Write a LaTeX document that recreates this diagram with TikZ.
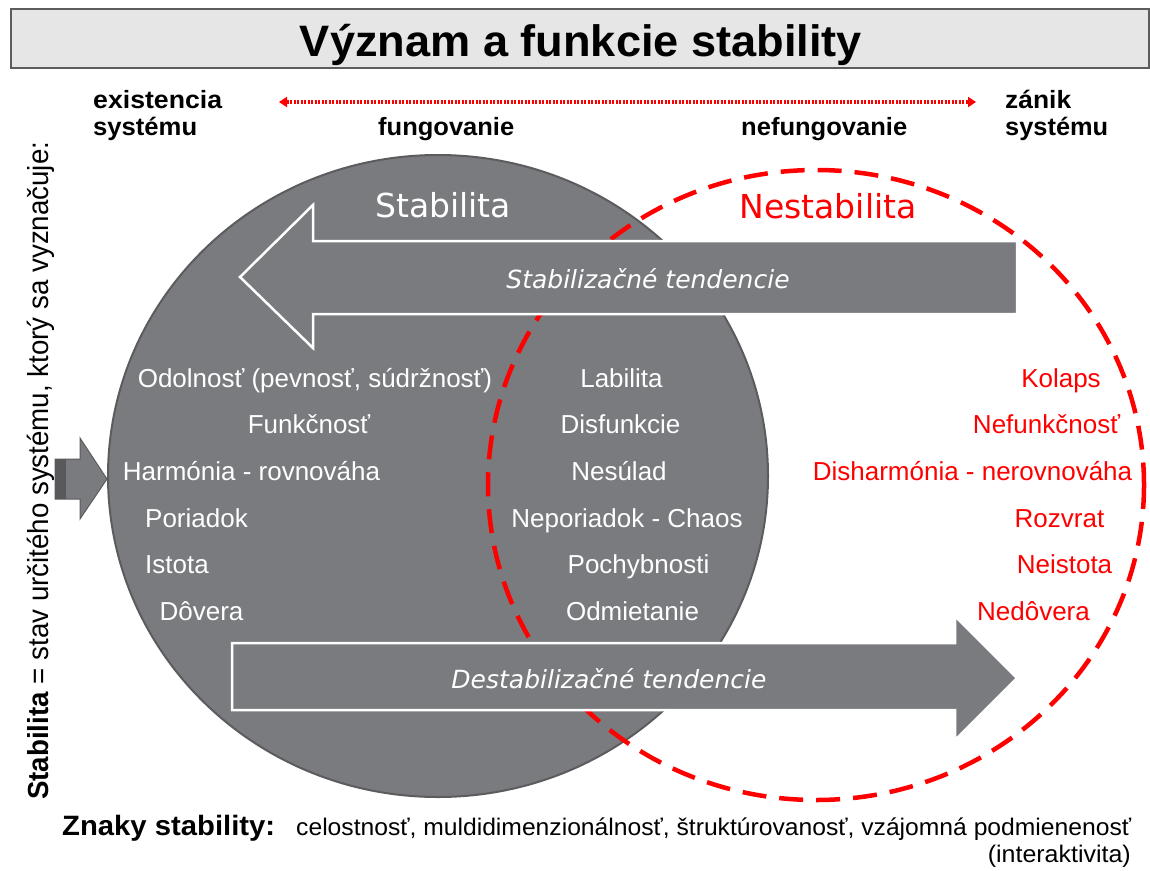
\documentclass[tikz,border=0pt]{standalone}
\usepackage{fontspec}
\setmainfont{Liberation Sans}
\newfontfamily\dvs{DejaVu Sans}
\usetikzlibrary{arrows.meta,shapes.geometric}
\definecolor{cgray}{HTML}{7A7B7F}
\definecolor{cborder}{HTML}{5C5C5E}
\definecolor{cdark}{HTML}{58595B}
\definecolor{ctitle}{HTML}{E6E6E6}
\definecolor{cred}{HTML}{FF0000}
\newcommand\fs[1]{\fontsize{#1}{#1}\selectfont}
\newcommand\fitx[2]{\resizebox{#1}{\height}{#2}}
\begin{document}
\begin{tikzpicture}[x=1pt,y=-1pt,
  lbl/.style={inner sep=0pt, anchor=base, font=\fs{26pt}},
  wt/.style={lbl, text=white},
  rt/.style={lbl, text=cred},
  plain/.style={inner sep=0pt, anchor=base west},
  bigarrow/.style={fill=cgray, draw=white, line width=2.5pt, line join=miter},
  head/.style={inner sep=0pt, anchor=base, font=\dvs\fs{33pt}},
  tend/.style={inner sep=0pt, anchor=base, text=white, font=\dvs\itshape\fs{25pt}},
  ]
\useasboundingbox (0,0) rectangle (1150,870);
% title
\node[draw=cborder, fill=ctitle, line width=1.5pt, minimum width=1138pt, minimum height=59pt, inner sep=0pt, anchor=north west] (titlebox) at (10,8) {};
\node[inner sep=0pt, anchor=base] (title) at (581,56) {\fitx{562pt}{\bfseries\fs{44pt}Význam a funkcie stability}};
% top labels
\node[plain] (ex1) at (93,108) {\fitx{129pt}{\bfseries\fs{25pt}existencia}};
\node[plain] (ex2) at (93,135) {\fitx{104pt}{\bfseries\fs{25pt}systému}};
\node[plain] (fung) at (378,135) {\fitx{136pt}{\bfseries\fs{25pt}fungovanie}};
\node[plain] (nefung) at (741,135) {\fitx{166pt}{\bfseries\fs{25pt}nefungovanie}};
\node[plain] (zan1) at (1005,108) {\fitx{66pt}{\bfseries\fs{25pt}zánik}};
\node[plain] (zan2) at (1005,135) {\fitx{103pt}{\bfseries\fs{25pt}systému}};
\coordinate (dl) at (279,102);
\coordinate (dr) at (976,102);
\draw[cred, line width=3.5pt, dash pattern=on 2pt off 1.5pt, {Triangle[length=8pt,width=10pt]}-{Triangle[length=8pt,width=10pt]}] (dl) -- (dr);
% circles
\node[ellipse, fill=cgray, draw=cborder, line width=2pt, minimum width=660pt, minimum height=642pt, inner sep=0pt] (stab) at (438,476) {};
\draw[cred, line width=4.5pt, dash pattern=on 24pt off 13pt] (816,485) ellipse [x radius=328, y radius=315];
% big arrows
\draw[bigarrow] (1017,241) -- (313,241) -- (313,205) -- (240,277) -- (313,348) -- (313,314) -- (1017,314) -- cycle;
\draw[bigarrow] (232,643) -- (955,643) -- (955,616) -- (1017,678) -- (955,740) -- (955,710) -- (232,710) -- cycle;
\node[tend] (stt) at (648,288) {Stabilizačné tendencie};
\node[tend] (dtt) at (609,688) {Destabilizačné tendencie};
% headings
\node[head, text=white] (hstab) at (443,217) {Stabilita};
\node[head, text=cred] (hnest) at (828,218) {Nestabilita};
% small left arrow
\draw[fill=cgray, draw=cborder, line width=1pt] (55,459) -- (80,459) -- (80,438) -- (107,479) -- (80,519) -- (80,499) -- (55,499) -- cycle;
\fill[cdark] (55,459) rectangle (66,499);
% left column
\node[wt] (l1) at (315,387) {Odolnosť (pevnosť, súdržnosť)};
\node[wt] (l2) at (309,433) {Funkčnosť};
\node[wt] (l3) at (251.5,480) {Harmónia - rovnováha};
\node[wt] (l4) at (196.5,527) {Poriadok};
\node[wt] (l5) at (177,573) {Istota};
\node[wt] (l6) at (201.5,620) {Dôvera};
% middle column
\node[wt] (m1) at (621.5,387) {Labilita};
\node[wt] (m2) at (620.5,433) {Disfunkcie};
\node[wt] (m3) at (619,480) {Nesúlad};
\node[wt] (m4) at (627,527) {Neporiadok - Chaos};
\node[wt] (m5) at (638.5,573) {Pochybnosti};
\node[wt] (m6) at (632.5,620) {Odmietanie};
% right column
\node[rt] (r1) at (1061,387) {Kolaps};
\node[rt] (r2) at (1046.5,433) {Nefunkčnosť};
\node[rt] (r3) at (972.5,480) {Disharmónia - nerovnováha};
\node[rt] (r4) at (1059.5,527) {Rozvrat};
\node[rt] (r5) at (1064.5,573) {Neistota};
\node[rt] (r6) at (1033.5,620) {Nedôvera};
% vertical text
\node[rotate=90, anchor=base west, inner sep=0pt] (deftext) at (48,800) {\fitx{658pt}{\fs{29pt}\textbf{Stabilita} = stav určitého systému, ktorý sa vyznačuje:}};
% bottom
\node[plain] (znaky) at (62,835) {\fitx{213pt}{\bfseries\fs{28pt}Znaky stability:}};
\node[plain] (znaky2) at (296,835) {\fitx{835pt}{\fs{24pt}celostnosť, muldidimenzionálnosť, štruktúrovanosť, vzájomná podmienenosť}};
\node[inner sep=0pt, anchor=base east] (znaky3) at (1131,862) {\fitx{143pt}{\fs{24pt}(interaktivita)}};
\end{tikzpicture}
\end{document}
